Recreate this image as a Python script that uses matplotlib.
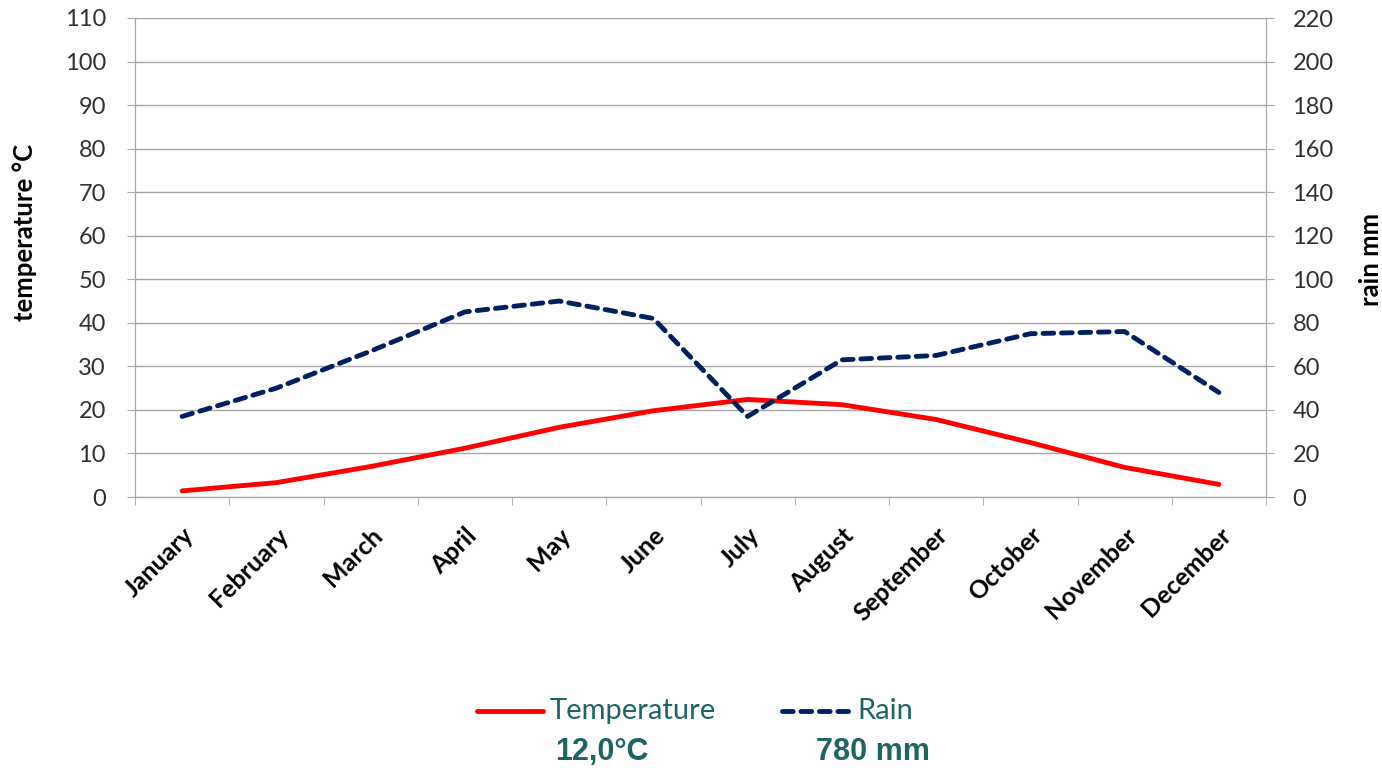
import matplotlib.pyplot as plt
from matplotlib.lines import Line2D

plt.rcParams['font.family'] = ['Lato', 'DejaVu Sans']

months = ['January', 'February', 'March', 'April', 'May', 'June', 'July',
          'August', 'September', 'October', 'November', 'December']
temperature = [1.4, 3.3, 7.0, 11.2, 16.0, 19.8, 22.4, 21.2, 17.8, 12.5, 6.8, 2.9]
rain = [37, 50, 67, 85, 90, 82, 37, 63, 65, 75, 76, 48]
temp_label = '12,0°C'
rain_label = '780 mm'

grid_col = '#a6a6a6'
text_col = '#1f6464'
tick_col = '#303030'

fig = plt.figure(figsize=(13.82, 7.71), dpi=100)
ax = fig.add_axes([135 / 1382, 1 - 497 / 771, 1131 / 1382, 479 / 771])
ax2 = ax.twinx()

x = list(range(len(months)))
ax.plot(x, temperature, color='#ff0000', linewidth=3.5, solid_capstyle='round', zorder=3)
ax2.plot(x, rain, color='#002060', linewidth=3.5, linestyle=(0, (2.2, 1.6)),
         dash_capstyle='round', zorder=3)

ax.set_xlim(-0.5, 11.5)
ax.set_ylim(0, 110)
ax2.set_ylim(0, 220)
ax.set_yticks(range(0, 111, 10))
ax2.set_yticks(range(0, 221, 20))
ax.grid(axis='y', color=grid_col, linewidth=1)
ax.set_axisbelow(True)

ax.set_xticks(x)
ax.set_xticklabels(months, rotation=45, ha='right', rotation_mode='anchor',
                   fontsize=18, fontweight='bold')
ax.set_xticks([i + 0.5 for i in range(-1, 12)], minor=True)
ax.tick_params(axis='x', which='major', length=0, pad=19)
ax.tick_params(axis='x', which='minor', length=6, color=grid_col)
ax.tick_params(axis='y', length=6, color=grid_col, labelsize=17, labelcolor=tick_col, pad=15)
ax2.tick_params(axis='y', length=6, color=grid_col, labelsize=17, labelcolor=tick_col, pad=13)

for a in (ax, ax2):
    a.spines['top'].set_visible(False)
    for s in ('left', 'right', 'bottom'):
        a.spines[s].set_color(grid_col)

ax.set_ylabel('temperature °C', fontsize=18.5, fontweight='bold')
ax.yaxis.set_label_coords(-0.0866, 0.553)
ax2.set_ylabel('rain mm', fontsize=18.5, fontweight='bold', rotation=90)
ax2.yaxis.set_label_coords(1.0822, 0.495)

# legend below the chart
lax = fig.add_axes([0, 0, 1, 1])
lax.set_xlim(0, 1382)
lax.set_ylim(771, 0)
lax.axis('off')
lax.add_line(Line2D([477, 543], [711, 711], color='#ff0000', linewidth=3.5,
                    solid_capstyle='round'))
lax.text(550, 711, 'Temperature', fontsize=21, color=text_col, va='center')
lax.add_line(Line2D([782, 848], [711, 711], color='#002060', linewidth=3.5,
                    linestyle=(0, (2.2, 1.6)), dash_capstyle='round'))
lax.text(857, 711, 'Rain', fontsize=21, color=text_col, va='center')
lax.text(602, 752, temp_label, fontsize=22, fontweight='bold', color=text_col,
         ha='center', va='center', family='Liberation Sans')
lax.text(873, 752, rain_label, fontsize=22, fontweight='bold', color=text_col,
         ha='center', va='center', family='Liberation Sans')

fig.savefig('out.png', dpi=100)
